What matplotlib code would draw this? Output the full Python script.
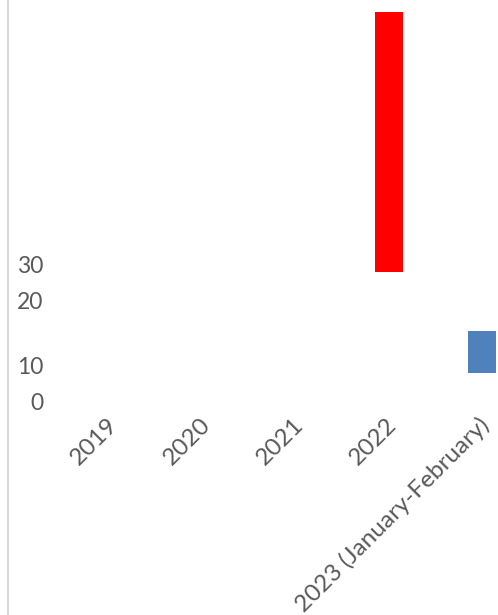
import matplotlib
matplotlib.use("Agg")
import matplotlib.pyplot as plt
import matplotlib.transforms as mtransforms
from matplotlib.lines import Line2D
import numpy as np

# ---- data ----
categories = ['2019', '2020', '2021', '2022', '2023 (January-February)']
bar_low = [0, 0, 0, 36.1, 8.1]
bar_high = [0, 0, 0, 108.3, 19.7]
bar_colors = ['#FF0000', '#FF0000', '#FF0000', '#FF0000', '#4F81BD']
ytick_pos = [0, 10, 28.3, 38.1]
ytick_labels = ['0', '10', '20', '30']

plt.rcParams['font.family'] = ['Lato', 'DejaVu Sans']

W, H, DPI = 498, 615, 100
fig = plt.figure(figsize=(W / DPI, H / DPI), dpi=DPI)
ax_bottom_px = 402
ax = fig.add_axes([0, (H - ax_bottom_px) / H, 1, ax_bottom_px / H])

x = np.arange(len(categories))
heights = [h - l for l, h in zip(bar_low, bar_high)]
ax.bar(x, heights, bottom=bar_low, width=0.30, color=bar_colors, linewidth=0)

# x mapping: first category at 110 px, 93 px per category
px0, step = 110, 93
ax.set_xlim(-px0 / step, (W - px0) / step)
ax.set_ylim(0, ax_bottom_px / 3.6)

for s in ax.spines.values():
    s.set_visible(False)

ax.set_yticks(ytick_pos)
ax.set_yticklabels(ytick_labels)
ax.tick_params(axis='y', length=0, pad=-31, labelsize=16.5, labelcolor='#595959')
for t in ax.get_yticklabels():
    t.set_ha('right')

ax.set_xticks(x)
ax.set_xticklabels(categories, rotation=45, ha='right', va='center',
                   rotation_mode='anchor')
ax.tick_params(axis='x', length=0, pad=14, labelsize=17.5, labelcolor='#595959')
offset = mtransforms.ScaledTranslation(4 / DPI, 0, fig.dpi_scale_trans)
for t in ax.get_xticklabels():
    t.set_transform(t.get_transform() + offset)

fig.add_artist(Line2D([7.5 / W, 7.5 / W], [0, 1], transform=fig.transFigure,
                      color='#D9D9D9', linewidth=1.5))

fig.savefig('out.png', dpi=DPI)
